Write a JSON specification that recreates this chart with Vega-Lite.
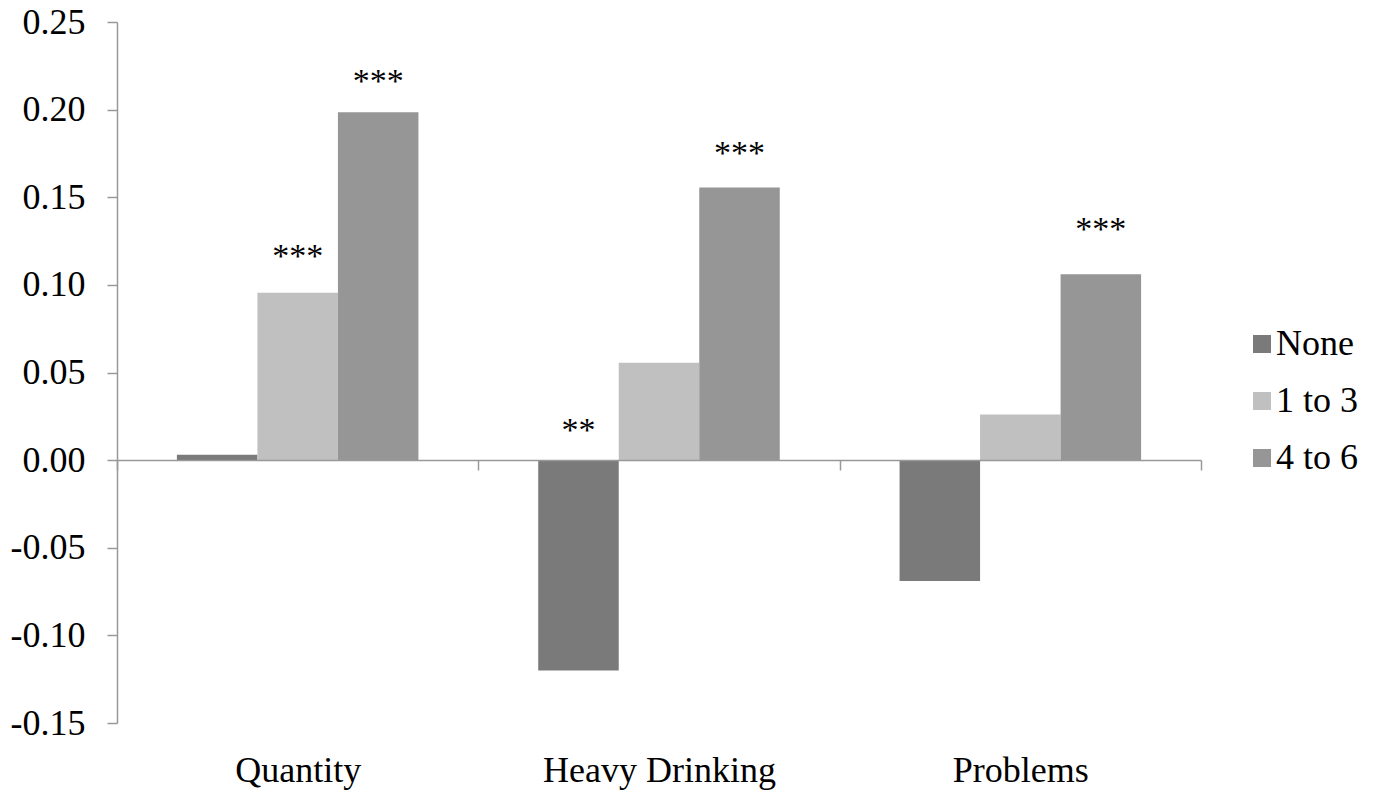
{
  "$schema": "https://vega.github.io/schema/vega-lite/v6.json",
  "width": 1084,
  "height": 701,
  "autosize": "none",
  "padding": {"left": 117, "top": 22, "right": 175, "bottom": 70},
  "background": "white",
  "config": {"font": "Liberation Serif", "view": {"stroke": null}},
  "datasets": {
    "bars": [
      {"measure": "Quantity", "group": "None", "value": 0.003},
      {"measure": "Quantity", "group": "1 to 3", "value": 0.0955},
      {"measure": "Quantity", "group": "4 to 6", "value": 0.1985},
      {"measure": "Heavy Drinking", "group": "None", "value": -0.120},
      {"measure": "Heavy Drinking", "group": "1 to 3", "value": 0.0555},
      {"measure": "Heavy Drinking", "group": "4 to 6", "value": 0.1555},
      {"measure": "Problems", "group": "None", "value": -0.069},
      {"measure": "Problems", "group": "1 to 3", "value": 0.026},
      {"measure": "Problems", "group": "4 to 6", "value": 0.106}
    ],
    "stars": [
      {"measure": "Quantity", "group": "1 to 3", "stars": "***", "at": 0.110},
      {"measure": "Quantity", "group": "4 to 6", "stars": "***", "at": 0.210},
      {"measure": "Heavy Drinking", "group": "None", "stars": "**", "at": 0.011},
      {"measure": "Heavy Drinking", "group": "4 to 6", "stars": "***", "at": 0.169},
      {"measure": "Problems", "group": "4 to 6", "stars": "***", "at": 0.1255}
    ]
  },
  "layer": [
    {
      "data": {"name": "bars"},
      "mark": {"type": "bar"},
      "encoding": {
        "x": {
          "field": "measure",
          "type": "nominal",
          "sort": ["Quantity", "Heavy Drinking", "Problems"],
          "scale": {"paddingInner": 0, "paddingOuter": 0},
          "axis": {
            "title": null,
            "orient": "bottom",
            "offset": -263,
            "labelAngle": 0,
            "tickBand": "extent",
            "tickSize": 10,
            "tickColor": "#999999",
            "tickWidth": 1.5,
            "domainColor": "#999999",
            "domainWidth": 1.5,
            "labelFont": "Liberation Serif",
            "labelFontSize": 36,
            "labelColor": "black",
            "labelLimit": 500,
            "labelPadding": 283,
            "zindex": 1
          }
        },
        "xOffset": {
          "field": "group",
          "type": "nominal",
          "sort": ["None", "1 to 3", "4 to 6"],
          "scale": {"paddingInner": 0, "paddingOuter": 0.744}
        },
        "y": {
          "field": "value",
          "type": "quantitative",
          "scale": {"domain": [-0.15, 0.25], "nice": false, "zero": false},
          "axis": {
            "title": null,
            "grid": false,
            "values": [-0.15, -0.1, -0.05, 0, 0.05, 0.1, 0.15, 0.2, 0.25],
            "labelExpr": "datum.value < 0 ? '-' + format(-datum.value, '.2f') : format(datum.value, '.2f')",
            "tickSize": 10,
            "tickColor": "#999999",
            "tickWidth": 1.5,
            "domainColor": "#999999",
            "domainWidth": 1.5,
            "labelFont": "Liberation Serif",
            "labelFontSize": 36,
            "labelColor": "black",
            "labelPadding": 22
          }
        },
        "color": {
          "field": "group",
          "type": "nominal",
          "sort": ["None", "1 to 3", "4 to 6"],
          "scale": {"domain": ["None", "1 to 3", "4 to 6"], "range": ["#7a7a7a", "#c0c0c0", "#969696"]},
          "legend": {
            "title": null,
            "orient": "none",
            "legendX": 1127,
            "legendY": 304,
            "symbolType": "square",
            "symbolSize": 324,
            "symbolStrokeWidth": 0,
            "symbolOpacity": 1,
            "labelFont": "Liberation Serif",
            "labelFontSize": 36,
            "labelColor": "black",
            "labelOffset": -4,
            "rowPadding": 21
          }
        }
      }
    },
    {
      "data": {"name": "stars"},
      "mark": {"type": "text", "font": "Liberation Serif", "fontSize": 34, "align": "center", "baseline": "alphabetic", "color": "black"},
      "encoding": {
        "x": {"field": "measure", "type": "nominal", "sort": ["Quantity", "Heavy Drinking", "Problems"]},
        "xOffset": {"field": "group", "type": "nominal", "sort": ["None", "1 to 3", "4 to 6"]},
        "y": {"field": "at", "type": "quantitative"},
        "text": {"field": "stars"}
      }
    }
  ]
}
